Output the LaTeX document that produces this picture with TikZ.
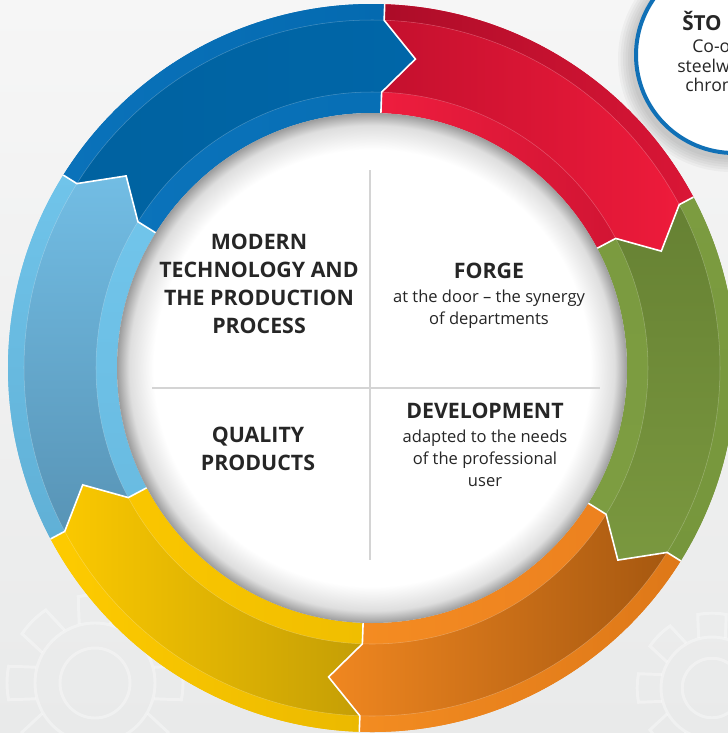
\documentclass[tikz,border=0pt]{standalone}
\usepackage{fontspec}
\setmainfont{Open Sans}

\definecolor{txtdark}{RGB}{38,38,38}
\definecolor{divgray}{RGB}{212,212,212}
\definecolor{bgtop}{RGB}{246,246,246}
\definecolor{bgbottom}{RGB}{233,234,234}
\definecolor{shadowlt}{RGB}{222,222,222}
\definecolor{shadowdk}{RGB}{156,156,156}
\definecolor{badgeblue}{RGB}{16,112,182}

\pgfdeclareradialshading{innershadow}{\pgfpoint{0bp}{0bp}}{color(0bp)=(white); color(21.4bp)=(white); color(23.8bp)=(shadowlt); color(25bp)=(shadowdk); color(50bp)=(shadowdk)}

\tikzset{
	headtxt/.style={font=\fontsize{16}{21}\selectfont\bfseries, text=txtdark, align=center, inner sep=0pt},
	bodytxt/.style={font=\fontsize{12.4}{16.5}\selectfont, text=txtdark, align=center, inner sep=0pt},
	badgetxt/.style={anchor=base west, font=\fontsize{13.2}{16}\selectfont, text=txtdark, inner sep=0pt},
	divider/.style={draw=divgray, line width=1pt},
	segsep/.style={draw=white, line width=1.2pt},
	gearline/.style={draw=white, line width=2.2pt, opacity=0.35},
	% blue
	bluein/.style={left color={rgb,255:red,12;green,116;blue,188}, right color={rgb,255:red,6;green,110;blue,180}},
	blueout/.style={left color={rgb,255:red,10;green,114;blue,186}, right color={rgb,255:red,4;green,106;blue,176}},
	bluemid/.style={left color={rgb,255:red,0;green,98;blue,160}, right color={rgb,255:red,0;green,102;blue,168}, draw=white, draw opacity=0.25, line width=0.4pt},
	% red
	redin/.style={left color={rgb,255:red,238;green,29;blue,62}, right color={rgb,255:red,200;green,18;blue,48}},
	redout/.style={left color={rgb,255:red,172;green,12;blue,40}, right color={rgb,255:red,218;green,22;blue,54}},
	redmid/.style={left color={rgb,255:red,196;green,16;blue,46}, right color={rgb,255:red,238;green,27;blue,59}, draw=white, draw opacity=0.25, line width=0.4pt},
	% green
	greenin/.style={top color={rgb,255:red,122;green,154;blue,63}, bottom color={rgb,255:red,126;green,158;blue,66}},
	greenout/.style={top color={rgb,255:red,124;green,156;blue,64}, bottom color={rgb,255:red,118;green,150;blue,60}},
	greenmid/.style={top color={rgb,255:red,102;green,129;blue,51}, bottom color={rgb,255:red,122;green,152;blue,63}, draw=white, draw opacity=0.25, line width=0.4pt},
	% orange
	orangein/.style={left color={rgb,255:red,245;green,141;blue,34}, right color={rgb,255:red,234;green,126;blue,30}},
	orangeout/.style={left color={rgb,255:red,243;green,140;blue,33}, right color={rgb,255:red,222;green,120;blue,24}},
	orangemid/.style={left color={rgb,255:red,240;green,135;blue,32}, right color={rgb,255:red,166;green,88;blue,16}, draw=white, draw opacity=0.25, line width=0.4pt},
	% yellow
	yellowin/.style={left color={rgb,255:red,253;green,201;blue,0}, right color={rgb,255:red,240;green,190;blue,0}},
	yellowout/.style={left color={rgb,255:red,254;green,203;blue,0}, right color={rgb,255:red,235;green,185;blue,0}},
	yellowmid/.style={left color={rgb,255:red,250;green,200;blue,0}, right color={rgb,255:red,196;green,158;blue,6}, draw=white, draw opacity=0.25, line width=0.4pt},
	% light blue
	skyin/.style={top color={rgb,255:red,114;green,198;blue,236}, bottom color={rgb,255:red,104;green,186;blue,224}},
	skyout/.style={top color={rgb,255:red,112;green,196;blue,234}, bottom color={rgb,255:red,96;green,176;blue,214}},
	skymid/.style={top color={rgb,255:red,114;green,189;blue,228}, bottom color={rgb,255:red,88;green,148;blue,182}, draw=white, draw opacity=0.25, line width=0.4pt}
}

\begin{document}
\begin{tikzpicture}[x=0.75pt,y=0.75pt,yscale=-1,xscale=1]
	\useasboundingbox (0,0) rectangle (728,733);

	% background
	\shade[top color=bgtop, bottom color=bgbottom] (0,0) rectangle (728,733);

	% faint gears
	\foreach \gx/\gy/\gs in {95/683/1, 712/688/0.85} {
		\begin{scope}[shift={(\gx,\gy)}, scale=\gs]
			\draw[gearline] (0,0) circle (35);
			\draw[gearline] (0,0) circle (60);
			\foreach \k in {0,45,...,315}
				\draw[gearline] (\k-15:61) -- (\k-11:88) arc[start angle=\k-11, end angle=\k+11, radius=88] -- (\k+15:61);
		\end{scope}
	}

	% badge top right
	\coordinate (badge) at (734,55);
	\foreach \s in {1,...,6}
		\fill[black, opacity=0.03] (731,59) circle ({98+\s*2.5});
	\draw[draw=badgeblue, line width=3pt, fill=white] (badge) circle (98);
	\node[badgetxt, font=\fontsize{15.5}{16}\selectfont\bfseries] (badgetitle) at (682,30) {ŠTO};
	\node[badgetxt] (badgeline1) at (692,52) {Co-ow};
	\node[badgetxt] (badgeline2) at (677,72) {steelwo};
	\node[badgetxt] (badgeline3) at (685,91) {chrom};

	% ring of arrows
	\begin{scope}[shift={(372,368)}, yscale=-1]
		\foreach \a/\inn/\mid/\out in {148/bluein/bluemid/blueout, 88/redin/redmid/redout, 28/greenin/greenmid/greenout, -32/orangein/orangemid/orangeout, -92/yellowin/yellowmid/yellowout, -152/skyin/skymid/skyout} {
			\pgfmathsetmacro\e{\a-60}
			\shade[\inn] (\a:364) arc[start angle=\a, end angle=\e, radius=364] -- (\e:348) -- (\e-6:312) -- (\e:276) -- (\e:255) arc[start angle=\e, end angle=\a, radius=255] -- (\a:276) -- (\a-6:312) -- (\a:348) -- cycle;
			\shade[\out] (\a:364) arc[start angle=\a, end angle=\e, radius=364] -- (\e:348) arc[start angle=\e, end angle=\a, radius=348] -- cycle;
			\shade[\mid] (\a:348) arc[start angle=\a, end angle=\e, radius=348] -- (\e-6:312) -- (\e:276) arc[start angle=\e, end angle=\a, radius=276] -- (\a-6:312) -- cycle;
		}
		\foreach \a in {148,88,28,-32,-92,-152}
			\draw[segsep] (\a:364) -- (\a:348) -- (\a-6:312) -- (\a:276) -- (\a:255);
		% white centre
		\shade[shading=innershadow] (0,0) circle (255);
	\end{scope}

	% dividers
	\draw[divider] (370,170) -- (370,560);
	\draw[divider] (152,388) -- (600,388);

	% Text Nodes
	\node[headtxt] (modern) at (259,284) {MODERN\\TECHNOLOGY AND\\THE PRODUCTION\\PROCESS};
	\node[headtxt] (forge) at (489,271) {FORGE};
	\node[bodytxt] (forgetxt) at (489,309) {at the door – the synergy\\of departments};
	\node[headtxt] (devel) at (485,411) {DEVELOPMENT};
	\node[bodytxt] (develtxt) at (485,458) {adapted to the needs\\of the professional\\user};
	\node[headtxt] (quality) at (258,449) {QUALITY\\PRODUCTS};

\end{tikzpicture}
\end{document}
